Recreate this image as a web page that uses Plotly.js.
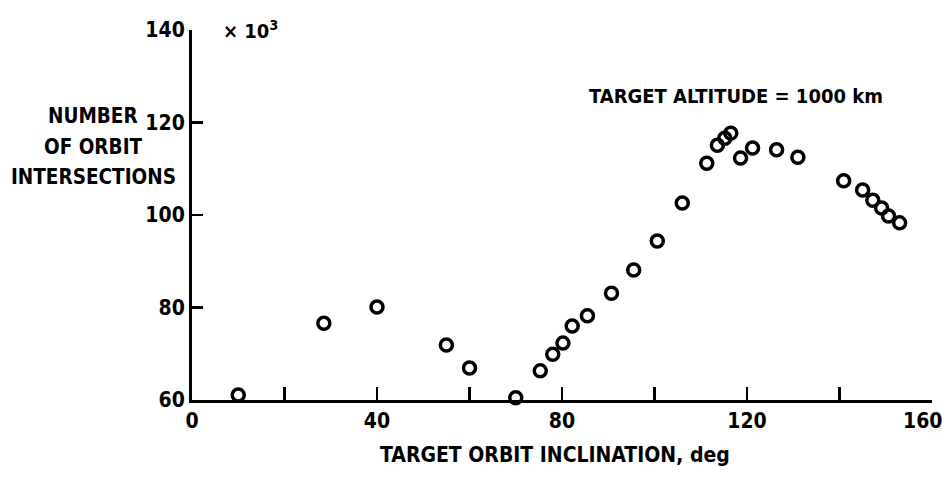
<!DOCTYPE html>
<html>
<head>
<meta charset="utf-8">
<script src="https://cdn.plot.ly/plotly-3.0.1.min.js"></script>
<style>html,body{margin:0;padding:0;background:#fff;}</style>
</head>
<body>
<div id="chart" style="width:949px;height:484px;"></div>
<script>
// Target orbit inclination, deg
const inclination = [10, 28.5, 40, 55, 60, 70, 75.3, 78, 80.2, 82.2, 85.5, 90.7, 95.5, 100.6, 106, 111.3, 113.6, 115.2, 116.5, 118.6, 121.2, 126.4, 131, 140.9, 145, 147.2, 149.1, 150.6, 153];
// Number of orbit intersections, x 10^3
const intersections = [61.1, 76.6, 80.1, 71.9, 66.9, 60.5, 66.3, 69.9, 72.3, 76, 78.2, 83.1, 88.1, 94.4, 102.6, 111.2, 115.1, 116.6, 117.7, 112.3, 114.5, 114.1, 112.5, 107.4, 105.4, 103.2, 101.5, 99.8, 98.3];
const xTickVals = [0, 40, 80, 120];
const xTickText = ["0", "40", "80", "120"];
const xMinorTickVals = [20, 60, 100, 140, 160];
const xEndLabel = "160";
const yTickVals = [60, 80, 100, 120, 140];
const yTickText = ["60", "80", "100", "120", "140"];
const yTitleLines = ["NUMBER", "OF ORBIT", "INTERSECTIONS"];

const FONT = "'DejaVu Sans Condensed', 'Liberation Sans Narrow', sans-serif";

const trace = {
  x: inclination,
  y: intersections,
  type: 'scatter',
  mode: 'markers',
  marker: {symbol: 'circle-open', size: 12, color: '#000', line: {width: 3.5, color: '#000'}},
  hoverinfo: 'x+y',
  cliponaxis: false
};

const yTitlePx = [116, 147, 177];
const annotations = [
  {text: '× 10<sup>3</sup>', xref: 'x', yref: 'y', x: 6.3, y: 140, xanchor: 'left', yanchor: 'middle',
   showarrow: false, font: {family: FONT, size: 20, color: '#000', weight: 'bold'}},
  {text: 'TARGET ALTITUDE = 1000 km', xref: 'paper', yref: 'paper', x: (736 - 192) / 740, y: (400 - 96) / 370,
   xanchor: 'center', yanchor: 'middle', showarrow: false,
   font: {family: FONT, size: 20, color: '#000', weight: 'bold'}},
  {text: 'TARGET ORBIT INCLINATION, deg', xref: 'paper', yref: 'paper', x: (555 - 192) / 740, y: (400 - 455) / 370,
   xanchor: 'center', yanchor: 'middle', showarrow: false,
   font: {family: FONT, size: 21, color: '#000', weight: 'bold'}},
  {text: xEndLabel, xref: 'x', yref: 'paper', x: 160, y: (400 - 421) / 370, xanchor: 'right', xshift: 12,
   yanchor: 'middle', showarrow: false,
   font: {family: FONT, size: 21, color: '#000', weight: 'bold'}}
];
yTitleLines.forEach((t, i) => {
  annotations.push({text: t, xref: 'paper', yref: 'paper', x: (93 - 192) / 740, y: (400 - yTitlePx[i]) / 370,
    xanchor: 'center', yanchor: 'middle', showarrow: false,
    font: {family: FONT, size: 20.5, color: '#000', weight: 'bold'}});
});

const layout = {
  width: 949, height: 484,
  margin: {l: 192, r: 17, t: 30, b: 84},
  paper_bgcolor: '#fff', plot_bgcolor: '#fff',
  showlegend: false,
  font: {family: FONT, color: '#000', size: 21, weight: 'bold'},
  xaxis: {
    range: [0, 160], showgrid: false, zeroline: false,
    showline: true, linecolor: '#000', linewidth: 3,
    ticks: 'inside', ticklen: 13, tickwidth: 2.5, tickcolor: '#000',
    tickmode: 'array', tickvals: xTickVals, ticktext: xTickText,
    minor: {tickmode: 'array', tickvals: xMinorTickVals, ticks: 'inside', ticklen: 13, tickwidth: 2.5, tickcolor: '#000', showgrid: false},
    tickfont: {family: FONT, size: 21, color: '#000', weight: 'bold'},
    fixedrange: true
  },
  yaxis: {
    range: [60, 140], showgrid: false, zeroline: false,
    showline: true, linecolor: '#000', linewidth: 3,
    ticks: 'inside', ticklen: 11, tickwidth: 2.5, tickcolor: '#000',
    tickmode: 'array', tickvals: yTickVals, ticktext: yTickText,
    tickfont: {family: FONT, size: 21, color: '#000', weight: 'bold'},
    fixedrange: true
  },
  annotations: annotations
};

Plotly.newPlot('chart', [trace], layout, {displayModeBar: false, staticPlot: true});
</script>
</body>
</html>
